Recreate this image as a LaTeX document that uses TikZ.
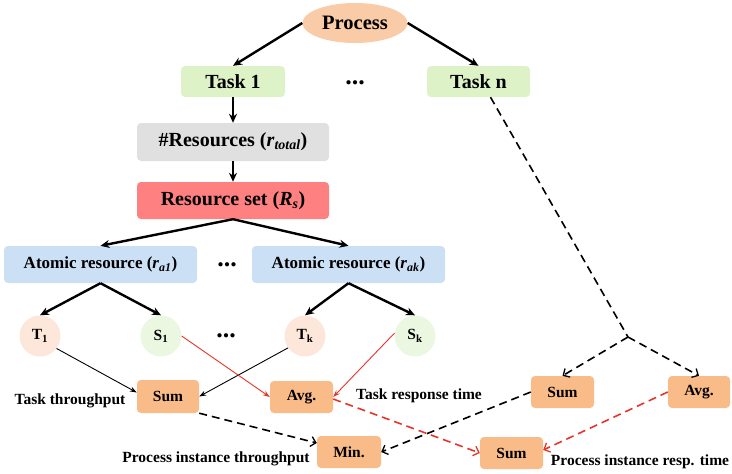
\documentclass[tikz,border=0pt]{standalone}
\usepackage{fontspec}
\setmainfont{Liberation Serif}
\usetikzlibrary{arrows.meta,shapes.geometric}
\definecolor{procC}{HTML}{F9CBA6}
\definecolor{taskC}{HTML}{DDF2C6}
\definecolor{resC}{HTML}{E0E0E0}
\definecolor{rsetC}{HTML}{FF8080}
\definecolor{atomC}{HTML}{CCE0F5}
\definecolor{tC}{HTML}{FDE7DA}
\definecolor{sC}{HTML}{EBF7E0}
\definecolor{aggC}{HTML}{F9BB88}
\definecolor{redL}{HTML}{E8352A}
\tikzset{
  boxbase/.style={rectangle, rounded corners=4pt, inner sep=0pt, font=\bfseries},
  bigbox/.style={boxbase, minimum height=31pt, font=\fontsize{20}{24}\selectfont\bfseries},
  atombox/.style={boxbase, fill=atomC, minimum width=193pt, minimum height=37pt, font=\fontsize{17}{20}\selectfont\bfseries},
  aggbox/.style={boxbase, fill=aggC, minimum width=63pt, minimum height=32pt, font=\fontsize{15.5}{18}\selectfont\bfseries},
  circnode/.style={circle, minimum size=41pt, inner sep=0pt, font=\fontsize{15.5}{18}\selectfont\bfseries},
  lbl/.style={font=\fontsize{15.5}{18}\selectfont\bfseries, inner sep=0pt},
  dotsnode/.style={font=\fontsize{26}{30}\selectfont\bfseries, inner sep=0pt},
  thickarr/.style={line width=2.4pt, -{Stealth[length=9pt,width=8pt]}},
  thinarr/.style={line width=0.9pt, -{Stealth[length=7pt,width=5pt]}},
  dasharr/.style={line width=1.6pt, dash pattern=on 8pt off 5pt, -{Straight Barb[length=5pt,width=10pt,line width=1.3pt]}},
}
\begin{document}
\begin{tikzpicture}[x=1pt,y=-1pt]
\useasboundingbox (0,0) rectangle (732,474);
% nodes
\node[ellipse, fill=procC, minimum width=105pt, minimum height=40pt, inner sep=0pt, font=\fontsize{20.5}{24}\selectfont\bfseries] (proc) at (355,23) {Process};
\node[bigbox, fill=taskC, minimum width=104pt] (task1) at (233,81.5) {Task 1};
\node[bigbox, fill=taskC, minimum width=103pt] (taskn) at (478.5,81.5) {Task n};
\node[dotsnode] (dots1) at (355,83) {...};
\node[bigbox, fill=resC, minimum width=192pt, minimum height=38pt] (res) at (233,142) {\#Resources (\textit{r}\textsubscript{\textit{total}})};
\node[bigbox, fill=rsetC, minimum width=192pt, minimum height=37pt] (rset) at (233,200.5) {Resource set (\textit{R}\textsubscript{\textit{s}})};
\node[atombox] (a1) at (100.5,264.5) {Atomic resource (\textit{r}\textsubscript{\textit{a1}})};
\node[atombox] (ak) at (348.5,264.5) {Atomic resource (\textit{r}\textsubscript{\textit{ak}})};
\node[dotsnode] (dots2) at (227,265) {...};
\node[circnode, fill=tC] (t1) at (40,336) {T\textsubscript{1}};
\node[circnode, fill=sC] (s1) at (161,336) {S\textsubscript{1}};
\node[circnode, fill=tC] (tk) at (305,336) {T\textsubscript{k}};
\node[circnode, fill=sC] (sk) at (415,336) {S\textsubscript{k}};
\node[dotsnode] (dots3) at (226,336) {...};
\node[aggbox, minimum width=62pt, minimum height=33pt] (sumL) at (168,396.5) {Sum};
\node[aggbox] (avgM) at (301.5,397) {Avg.};
\node[aggbox, minimum width=64pt] (minB) at (349,452) {Min.};
\node[aggbox] (sumB) at (511.5,453) {Sum};
\node[aggbox] (sumR) at (562.5,392) {Sum};
\node[aggbox, minimum width=62pt] (avgR) at (699,392) {Avg.};
\coordinate (br) at (628,337);
% labels
\node[lbl] (l1) at (70,401) {Task throughput};
\node[lbl] (l2) at (419,396) {Task response time};
\node[lbl] (l3) at (216,459) {Process instance throughput};
\node[lbl] (l4) at (640,462) {Process instance resp. time};
% connectors
\draw[thickarr] (proc.west) -- (task1.north);
\draw[thickarr] (proc.east) -- (taskn.north);
\draw[thickarr] (task1.south) -- (res.north);
\draw[thickarr] (res.south) -- (rset.north);
\draw[thickarr] (rset.south) -- (a1.north);
\draw[thickarr] (rset.south) -- (ak.north);
\draw[thickarr] (a1.south) -- (t1.north);
\draw[thickarr] (a1.south) -- (s1.north);
\draw[thickarr] (ak.south) -- (tk.north);
\draw[thickarr] (ak.south) -- (sk.north);
\draw[thinarr] (t1.-37) -- ([yshift=4pt]sumL.west);
\draw[thinarr] (tk.-145) -- (sumL.east);
\draw[thinarr, redL] (s1.east) -- (avgM.west);
\draw[thinarr, redL] (sk.172) -- (avgM.east);
\draw[dasharr] (sumL.south east) -- ([yshift=9pt]minB.west);
\draw[dasharr, redL] ([yshift=-2pt]avgM.east) -- (sumB.west);
\draw[dasharr] (sumR.west) -- (minB.east);
\draw[dasharr, redL] (avgR.west) -- ([yshift=3pt]sumB.east);
\draw[line width=1.6pt, dash pattern=on 8pt off 5pt] ([xshift=12pt]taskn.south) -- (br);
\draw[dasharr] (br) -- (sumR.north);
\draw[dasharr] (br) -- (avgR.north);
\end{tikzpicture}
\end{document}
